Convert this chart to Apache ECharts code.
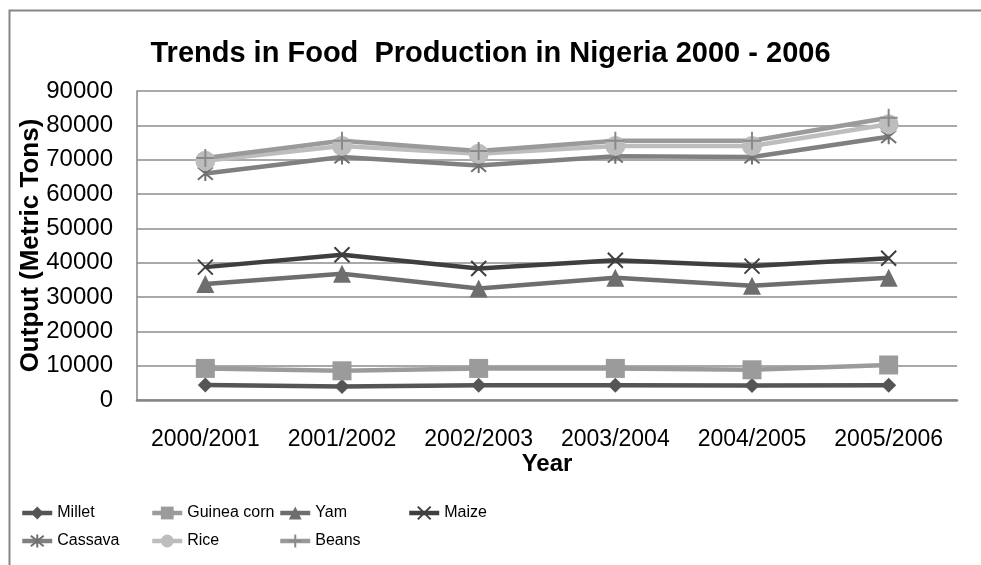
<!DOCTYPE html>
<html>
<head>
<meta charset="utf-8">
<script src="https://cdn.jsdelivr.net/npm/echarts@6/dist/echarts.min.js"></script>
<style>
  html, body { margin: 0; padding: 0; background: #fff; }
  #chart { width: 981px; height: 565px; }
</style>
</head>
<body>
<div id="chart"></div>
<script>
// Crop years on the category axis
const years = ['2000/2001', '2001/2002', '2002/2003', '2003/2004', '2004/2005', '2005/2006'];

// Output in metric tons per crop
const millet     = [4400, 3900, 4300, 4300, 4200, 4300];
const guineaCorn = [9200, 8500, 9200, 9200, 8800, 10200];
const yam        = [33800, 36800, 32500, 35600, 33300, 35600];
const maize      = [38700, 42300, 38300, 40700, 39000, 41300];
const cassava    = [66000, 70800, 68300, 71000, 70800, 76700];
const rice       = [69700, 74000, 71700, 74000, 74000, 80300];
const beans      = [70500, 75500, 72500, 75500, 75500, 82200];

// Y axis ticks
const yMin = 0, yMax = 90000, yStep = 10000;

const FONT = 'Liberation Sans, Arial, sans-serif';

// Stroke-only marker shapes
const X_PATH = 'path://M0,0L10,10M10,0L0,10';
const STAR_PATH = 'path://M0,0L10,10M10,0L0,10M5,-1L5,11';
const PLUS_PATH = 'path://M5,0L5,10M0,5L10,5';

function lineSeries(name, data, color, symbol, size, stroke) {
  const s = {
    name: name,
    type: 'line',
    data: data,
    color: color,
    symbol: symbol,
    symbolSize: size,
    lineStyle: { width: 4.5, color: color },
    itemStyle: { color: color },
    z: 2
  };
  if (stroke) {
    s.itemStyle = { color: color, borderColor: stroke, borderWidth: 2 };
  }
  return s;
}

const series = [
  lineSeries('Millet', millet, '#555555', 'diamond', 15),
  lineSeries('Guinea corn', guineaCorn, '#9b9b9b', 'rect', 19),
  lineSeries('Yam', yam, '#6e6e6e', 'triangle', 18),
  lineSeries('Maize', maize, '#3f3f3f', X_PATH, 15, '#3f3f3f'),
  lineSeries('Cassava', cassava, '#808080', STAR_PATH, 15, '#707070'),
  lineSeries('Rice', rice, '#bdbdbd', 'circle', 20),
  lineSeries('Beans', beans, '#9a9a9a', PLUS_PATH, 18, '#8a8a8a')
];

// Legend columns (two rows, four slots per row)
const legendColumns = [
  [['Millet', 'Cassava'], 20],
  [['Guinea corn', 'Rice'], 150],
  [['Yam', 'Beans'], 278],
  [['Maize'], 407]
];
const legends = legendColumns.map(([names, x]) => ({
  data: names,
  orient: 'vertical',
  left: x,
  top: 502,
  itemWidth: 30,
  itemHeight: 16,
  itemGap: 6,
  padding: 0,
  selectedMode: false,
  lineStyle: { width: 4.5 },
  textStyle: { fontFamily: FONT, fontSize: 16, color: '#000', lineHeight: 22 }
}));

const chart = echarts.init(document.getElementById('chart'), null, { renderer: 'canvas' });
chart.setOption({
  backgroundColor: '#fff',
  animation: false,
  title: {
    text: 'Trends in Food  Production in Nigeria 2000 - 2006',
    left: 'center',
    top: 34,
    textStyle: { fontFamily: FONT, fontSize: 29, fontWeight: 'bold', color: '#000' }
  },
  legend: legends,
  grid: { left: 137, right: 24, top: 91, bottom: 165 },
  xAxis: {
    type: 'category',
    data: years,
    boundaryGap: true,
    axisLine: { lineStyle: { color: '#868686', width: 2.5 } },
    axisTick: { show: false },
    axisLabel: {
      fontFamily: FONT, fontSize: 23, color: '#000', margin: 28,
      interval: 0, hideOverlap: false
    },
    name: 'Year',
    nameLocation: 'middle',
    nameGap: 52,
    nameMoveOverlap: false,
    nameTextStyle: { fontFamily: FONT, fontSize: 24, fontWeight: 'bold', color: '#000' }
  },
  yAxis: {
    type: 'value',
    min: yMin,
    max: yMax,
    interval: yStep,
    axisLine: { show: true, lineStyle: { color: '#868686', width: 1.5 } },
    axisTick: { show: false },
    splitLine: { lineStyle: { color: '#8c8c8c', width: 1.5 } },
    axisLabel: {
      fontFamily: FONT, fontSize: 24, color: '#000', margin: 24,
      formatter: v => String(v)
    },
    name: 'Output (Metric Tons)',
    nameLocation: 'middle',
    nameGap: 93,
    nameMoveOverlap: false,
    nameTextStyle: { fontFamily: FONT, fontSize: 26, fontWeight: 'bold', color: '#000' }
  },
  graphic: [{
    type: 'rect',
    shape: { x: 9.5, y: 10.5, width: 1000, height: 600 },
    style: { fill: 'none', stroke: '#868686', lineWidth: 2 },
    silent: true
  }],
  series: series
});
</script>
</body>
</html>
